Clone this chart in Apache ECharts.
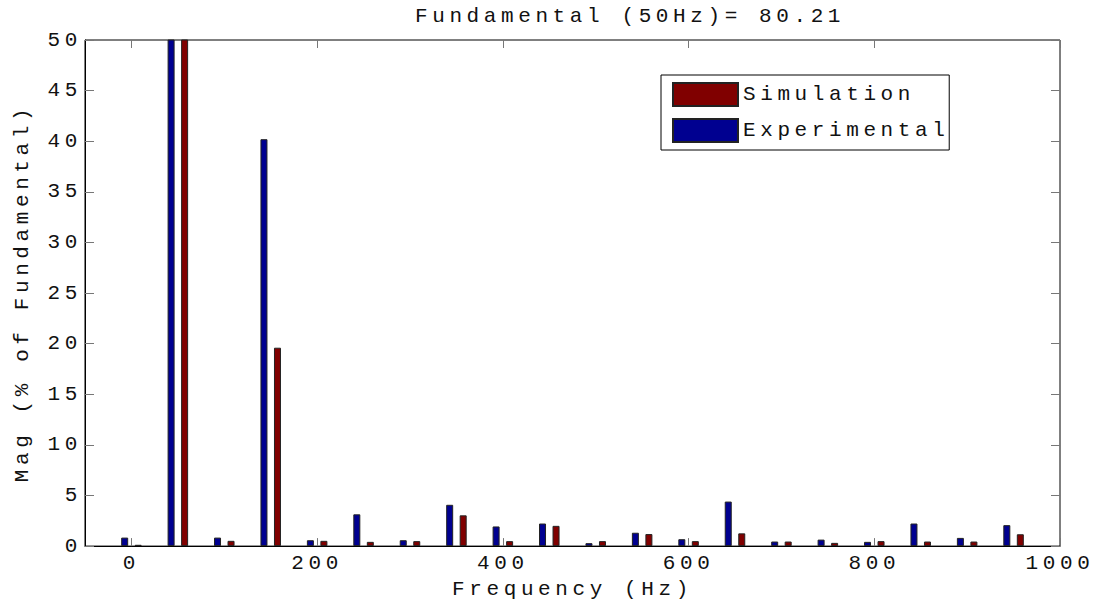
<!DOCTYPE html>
<html lang="en">
<head>
    <meta charset="UTF-8"/>
    <title>Harmonic Spectrum</title>
    <style>
        html, body {
            margin: 0;
            padding: 0;
            width: 100vw;
            height: 100vh;
            background: #ffffff;
            overflow: hidden;
        }

        #chart {
            width: 1103px;
            height: 605px;
        }

        /* MATLAB-style wide monospace text */
        #chart svg text {
            letter-spacing: 4.6px;
        }
    </style>
</head>
<body>
<div id="chart"></div>
<script src="https://cdn.jsdelivr.net/npm/echarts@6/dist/echarts.min.js"></script>
<script>
    const chart = echarts.init(document.getElementById('chart'), null, {renderer: 'svg'});

    // Harmonic frequencies (Hz)
    const freqs = [0, 50, 100, 150, 200, 250, 300, 350, 400, 450,
        500, 550, 600, 650, 700, 750, 800, 850, 900, 950];
    // Magnitude, % of fundamental
    const experimental = [0.84, 100, 0.84, 40.2, 0.58, 3.14, 0.58, 4.08, 1.94, 2.23,
        0.29, 1.32, 0.68, 4.4, 0.45, 0.64, 0.42, 2.23, 0.81, 2.07];
    const simulation = [0.13, 100, 0.52, 19.6, 0.52, 0.42, 0.49, 3.04, 0.49, 2.0,
        0.49, 1.19, 0.49, 1.26, 0.45, 0.32, 0.49, 0.45, 0.45, 1.17];
    const xTicks = [0, 200, 400, 600, 800, 1000];

    const font = "'Liberation Mono', 'DejaVu Sans Mono', monospace";
    const textColor = '#111';
    const tickColor = '#777';

    function createSeries(name, values, color) {
        return {
            name: name,
            type: 'bar',
            barWidth: 7,
            barGap: '93%',
            clip: true,
            itemStyle: {
                color: color,
                borderColor: '#222',
                borderWidth: 1
            },
            data: freqs.map((f, i) => [f, values[i]])
        }
    }

    const option = {
        backgroundColor: '#ffffff',
        animation: false,
        title: {
            text: 'Fundamental (50Hz)= 80.21',
            left: 415,
            top: 6,
            padding: 0,
            textStyle: {
                fontFamily: font,
                fontSize: 21,
                fontWeight: 'normal',
                color: textColor
            }
        },
        legend: {
            data: ['Simulation', 'Experimental'],
            orient: 'vertical',
            left: 661,
            top: 75,
            itemWidth: 65,
            itemHeight: 23,
            itemGap: 11,
            padding: [7, 55, 7, 11],
            borderColor: '#000',
            borderWidth: 1,
            backgroundColor: '#fff',
            icon: 'rect',
            textStyle: {
                fontFamily: font,
                fontSize: 21,
                color: textColor
            }
        },
        grid: {
            left: 85,
            right: 43,
            top: 40,
            bottom: 50,
            show: true,
            borderColor: '#000',
            borderWidth: 1
        },
        xAxis: [
            {
                type: 'value',
                min: -50,
                max: 1000,
                name: 'Frequency (Hz)',
                nameLocation: 'middle',
                nameGap: 26,
                nameTextStyle: {fontFamily: font, fontSize: 21, color: textColor},
                axisLine: {show: true, onZero: false, lineStyle: {color: '#000'}},
                axisTick: {show: true, inside: true, length: 8, customValues: xTicks, lineStyle: {color: tickColor}},
                axisLabel: {
                    customValues: xTicks,
                    formatter: v => String(v),
                    margin: 7,
                    fontFamily: font,
                    fontSize: 21,
                    color: textColor
                },
                splitLine: {show: false}
            },
            {
                type: 'value',
                position: 'top',
                min: -50,
                max: 1000,
                axisLine: {show: false, onZero: false},
                axisTick: {show: true, inside: true, length: 8, customValues: xTicks, lineStyle: {color: tickColor}},
                axisLabel: {show: false},
                splitLine: {show: false}
            }
        ],
        yAxis: [
            {
                type: 'value',
                min: 0,
                max: 50,
                interval: 5,
                name: 'Mag (% of Fundamental)',
                nameLocation: 'middle',
                nameGap: 52,
                nameTextStyle: {fontFamily: font, fontSize: 21, color: textColor},
                axisLine: {show: true, onZero: false, lineStyle: {color: '#000'}},
                axisTick: {show: true, inside: true, length: 9, lineStyle: {color: tickColor}},
                axisLabel: {
                    margin: 3,
                    fontFamily: font,
                    fontSize: 21,
                    color: textColor
                },
                splitLine: {show: false}
            },
            {
                type: 'value',
                position: 'right',
                min: 0,
                max: 50,
                interval: 5,
                axisLine: {show: false, onZero: false},
                axisTick: {show: true, inside: true, length: 9, lineStyle: {color: tickColor}},
                axisLabel: {show: false},
                splitLine: {show: false}
            }
        ],
        series: [
            createSeries('Experimental', experimental, '#000090'),
            createSeries('Simulation', simulation, '#800000')
        ]
    };

    chart.setOption(option);

    window.addEventListener('resize', () => {
        chart.resize();
    });
</script>
</body>
</html>
